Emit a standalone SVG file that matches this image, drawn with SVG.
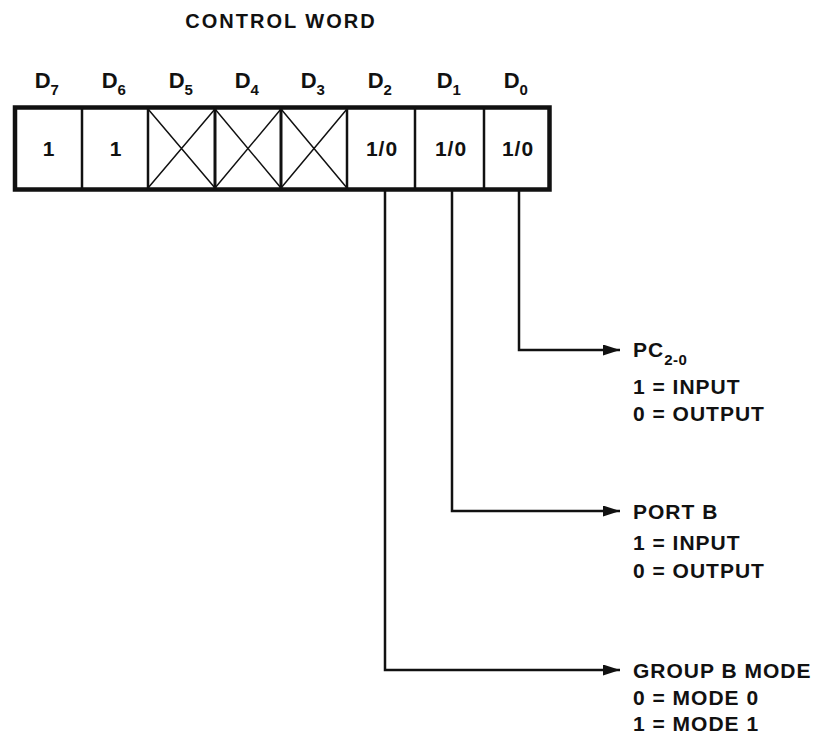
<svg xmlns="http://www.w3.org/2000/svg" width="817" height="736" viewBox="0 0 817 736">
<defs>
<style>
text{font-family:"Liberation Sans",Arial,sans-serif;font-weight:bold;fill:#111}
.t{font-size:21px;letter-spacing:1px}
.ttl{font-size:20px;letter-spacing:2px}
.d{font-size:22px}
.sub{font-size:15px;letter-spacing:0.5px}
.div{stroke:#111;stroke-width:2.5;fill:none}
.x{stroke:#111;stroke-width:1.5;fill:none}
.conn{stroke:#111;stroke-width:2.5;fill:none}
</style>
<marker id="arr" markerUnits="userSpaceOnUse" markerWidth="17" markerHeight="11" refX="17" refY="5.5" orient="auto">
<path d="M0,0 L17,5.5 L0,11 Z" fill="#111"/>
</marker>
</defs>
<rect width="817" height="736" fill="#fff"/>
<g id="title"><text class="ttl" x="281" y="28" text-anchor="middle">CONTROL WORD</text></g>
<g id="bit-labels">
<text class="d" x="47" y="88" text-anchor="middle">D<tspan class="sub" dy="7">7</tspan></text>
<text class="d" x="114" y="88" text-anchor="middle">D<tspan class="sub" dy="7">6</tspan></text>
<text class="d" x="181" y="88" text-anchor="middle">D<tspan class="sub" dy="7">5</tspan></text>
<text class="d" x="247" y="88" text-anchor="middle">D<tspan class="sub" dy="7">4</tspan></text>
<text class="d" x="313" y="88" text-anchor="middle">D<tspan class="sub" dy="7">3</tspan></text>
<text class="d" x="380" y="88" text-anchor="middle">D<tspan class="sub" dy="7">2</tspan></text>
<text class="d" x="449" y="88" text-anchor="middle">D<tspan class="sub" dy="7">1</tspan></text>
<text class="d" x="516" y="88" text-anchor="middle">D<tspan class="sub" dy="7">0</tspan></text>
</g>
<g id="control-word">
<rect x="15" y="107.5" width="534.5" height="82" fill="#fff" stroke="#111" stroke-width="4.5"/>
<line class="div" x1="82" y1="107" x2="82" y2="190"/>
<line class="div" x1="148" y1="107" x2="148" y2="190"/>
<line class="div" x1="215" y1="107" x2="215" y2="190" style="stroke-width:3"/>
<line class="div" x1="281" y1="107" x2="281" y2="190" style="stroke-width:3"/>
<line class="div" x1="347" y1="107" x2="347" y2="190"/>
<line class="div" x1="415" y1="107" x2="415" y2="190"/>
<line class="div" x1="484" y1="107" x2="484" y2="190"/>
<path class="x" d="M148,109 L215,188 M215,109 L148,188"/>
<path class="x" d="M215,109 L281,188 M281,109 L215,188"/>
<path class="x" d="M281,109 L347,188 M347,109 L281,188"/>
<text class="t" x="49" y="156" text-anchor="middle">1</text>
<text class="t" x="116" y="156" text-anchor="middle">1</text>
<text class="t" x="382" y="156" text-anchor="middle">1/0</text>
<text class="t" x="451" y="156" text-anchor="middle">1/0</text>
<text class="t" x="518" y="156" text-anchor="middle">1/0</text>
</g>
<g id="connectors">
<path class="conn" d="M519,191 L519,350 L620,350" marker-end="url(#arr)"/>
<path class="conn" d="M452,191 L452,511 L620,511" marker-end="url(#arr)"/>
<path class="conn" d="M385,191 L385,670 L620,670" marker-end="url(#arr)"/>
</g>
<g id="pc-label">
<text class="t" x="633" y="357">PC<tspan class="sub" dy="8">2-0</tspan></text>
<text class="t" x="633" y="394">1 = INPUT</text>
<text class="t" x="633" y="421">0 = OUTPUT</text>
</g>
<g id="portb-label">
<text class="t" x="633" y="519">PORT B</text>
<text class="t" x="633" y="550">1 = INPUT</text>
<text class="t" x="633" y="578">0 = OUTPUT</text>
</g>
<g id="groupb-label">
<text class="t" x="633" y="678">GROUP B MODE</text>
<text class="t" x="633" y="705">0 = MODE 0</text>
<text class="t" x="633" y="731">1 = MODE 1</text>
</g>
</svg>
